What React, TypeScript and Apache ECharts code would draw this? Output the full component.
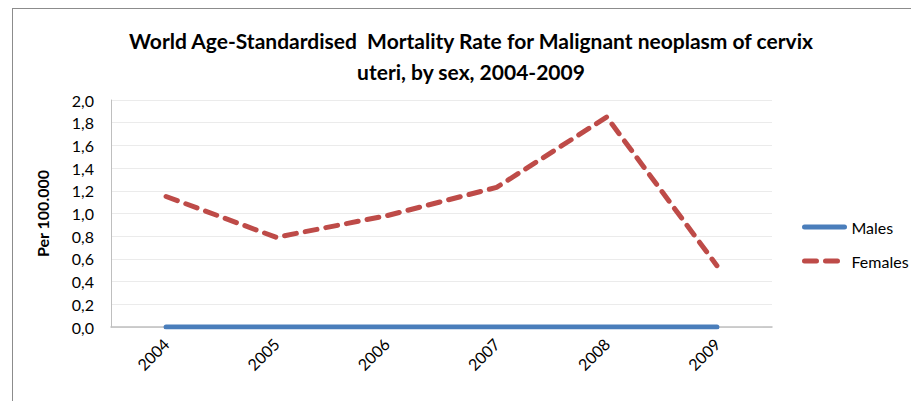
import React, { useEffect, useRef } from "react";
import * as echarts from "echarts";

const categories = ["2004", "2005", "2006", "2007", "2008", "2009"];
const males = [0, 0, 0, 0, 0, 0];
const females = [1.15, 0.79, 0.98, 1.23, 1.85, 0.54];
const titleLines = [
  "World Age-Standardised  Mortality Rate for Malignant neoplasm of cervix",
  "uteri, by sex, 2004-2009",
];
const yName = "Per 100.000";

const FONT = "Lato, 'Open Sans', sans-serif";

export default function App() {
  const ref = useRef<HTMLDivElement>(null);
  useEffect(() => {
    if (!ref.current) return;
    const chart = echarts.init(ref.current, undefined, { renderer: "svg" });
    chart.setOption({
      animation: false,
      backgroundColor: "#ffffff",
      title: {
        text: titleLines.join("\n"),
        left: 466,
        textAlign: "center",
        top: 20,
        textStyle: {
          fontFamily: FONT,
          fontWeight: "bold",
          fontSize: 21,
          lineHeight: 31,
          color: "#000",
        },
      },
      graphic: [
        { type: "line", shape: { x1: 12.5, y1: 8, x2: 12.5, y2: 401 }, style: { stroke: "#8c8c8c", lineWidth: 1 } },
        { type: "line", shape: { x1: 12, y1: 8.5, x2: 911, y2: 8.5 }, style: { stroke: "#8c8c8c", lineWidth: 1 } },
      ],
      legend: {
        orient: "vertical",
        left: 797,
        top: 214,
        itemWidth: 40,
        itemHeight: 14,
        itemGap: 18,
        itemStyle: { opacity: 0 },
        lineStyle: { width: 5, cap: "round" },
        textStyle: { fontFamily: FONT, fontSize: 16, color: "#000", padding: [0, 0, 0, 2] },
        data: [{ name: "Males" }, { name: "Females" }],
      },
      grid: { left: 111, right: 139, top: 100, bottom: 74, containLabel: false },
      xAxis: {
        type: "category",
        data: categories,
        boundaryGap: true,
        axisLine: { lineStyle: { color: "#bfbfbf", width: 1.5 } },
        axisTick: { show: false },
        axisLabel: {
          rotate: 45,
          fontFamily: FONT,
          fontSize: 16,
          color: "#000",
          margin: 14,
        },
      },
      yAxis: {
        type: "value",
        min: 0,
        max: 2,
        interval: 0.2,
        name: yName,
        nameLocation: "middle",
        nameGap: 61,
        nameTextStyle: { fontFamily: FONT, fontWeight: "bold", fontSize: 16, color: "#000" },
        axisLine: { show: true, lineStyle: { color: "#bfbfbf", width: 1 } },
        axisTick: { show: false },
        splitLine: { lineStyle: { color: "#ebebeb", width: 1 } },
        axisLabel: {
          fontFamily: FONT,
          fontSize: 16,
          color: "#000",
          margin: 17,
          formatter: (v: number) => v.toFixed(1).replace(".", ","),
        },
      },
      series: [
        {
          name: "Males",
          type: "line",
          data: males,
          symbol: "none",
          color: "#4a7ebb",
          lineStyle: { color: "#4a7ebb", width: 5, cap: "round" },
          z: 3,
        },
        {
          name: "Females",
          type: "line",
          data: females,
          symbol: "none",
          color: "#be4b48",
          lineStyle: { color: "#be4b48", width: 5, type: [12, 9], cap: "round" },
          z: 4,
        },
      ],
    });
    return () => chart.dispose();
  }, []);
  return (
    <div
      ref={ref}
      style={{ position: "fixed", left: 0, top: 0, width: 911, height: 401 }}
    />
  );
}
